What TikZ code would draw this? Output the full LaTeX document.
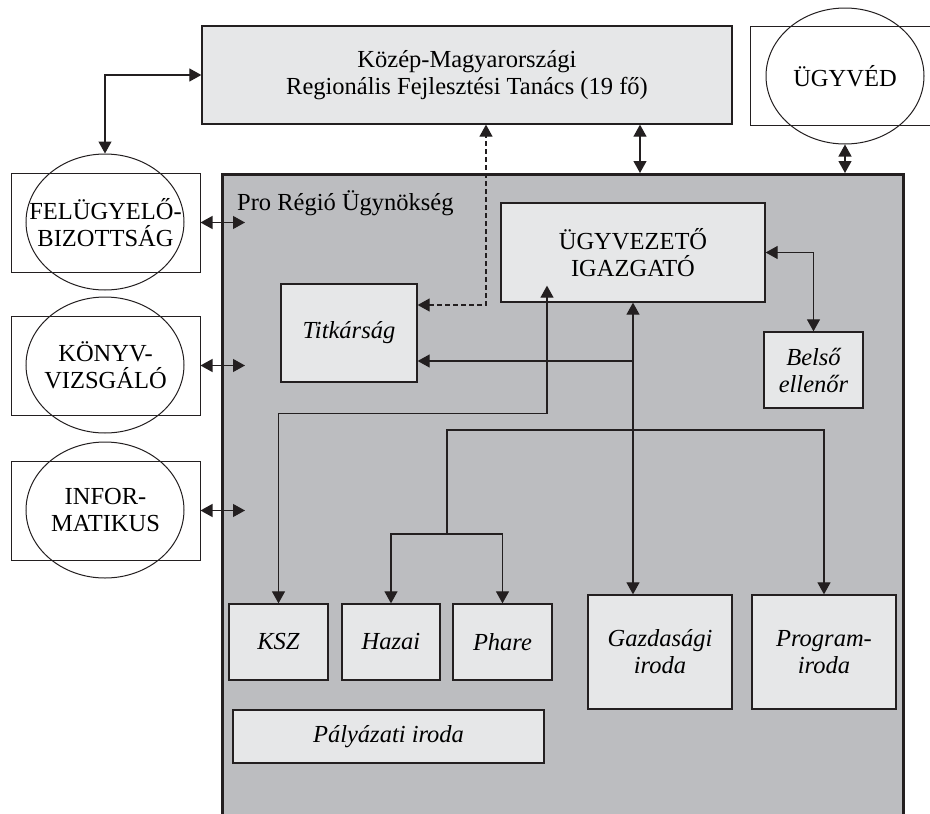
\documentclass[tikz,border=0pt]{standalone}
\usepackage{fontspec}
\setmainfont{Liberation Serif}
\usetikzlibrary{shapes.geometric, arrows.meta}
\definecolor{boxgray}{HTML}{E6E7E8}
\definecolor{agencygray}{HTML}{BCBDC0}
\definecolor{ink}{HTML}{231F20}
\newcommand{\orgfont}{\fontsize{24.5}{27}\selectfont}
\tikzstyle{board} = [rectangle, draw=ink, fill=boxgray, line width=1.3pt, inner sep=0pt, align=center, font=\orgfont]
\tikzstyle{unit} = [rectangle, draw=ink, fill=boxgray, line width=1.3pt, inner sep=0pt, align=center, font=\orgfont\itshape]
\tikzstyle{agency} = [rectangle, draw=ink, fill=agencygray, line width=2.6pt, inner sep=0pt]
\tikzstyle{outer} = [rectangle, draw=ink, line width=1pt, inner sep=0pt, align=center, font=\orgfont, minimum width=189pt, minimum height=99pt]
\tikzstyle{body} = [ellipse, draw=ink, line width=1pt, inner sep=0pt, align=center, font=\orgfont, minimum width=158pt, minimum height=136pt]
\tikzstyle{link} = [line width=1.2pt, draw=ink, <->]
\tikzstyle{flow} = [line width=1.2pt, draw=ink, ->]

\begin{document}
\begin{tikzpicture}[x=1pt, y=-1pt, >={Triangle[length=12pt,width=13pt]}]
		\useasboundingbox (0,0) rectangle (930,814);
		% top level
		\node (tanacs) [board, minimum width=530pt, minimum height=98pt] at (467,75) {Közép-Magyarországi\\Regionális Fejlesztési Tanács (19 fő)};
		\node (ugyved) [outer, minimum width=200pt] at (850,75.5) {};
		\node (ugyvedE) [body] at (845,76) {ÜGYVÉD};

		% left side
		\node (fel) [outer] at (105.5,222.5) {FELÜGYELŐ-\\BIZOTTSÁG};
		\node (felE) [body] at (105,222) {};
		\node (konyv) [outer] at (105.5,365.5) {KÖNYV-\\VIZSGÁLÓ};
		\node (konyvE) [body] at (105,365) {};
		\node (info) [outer] at (105.5,510.5) {INFOR-\\MATIKUS};
		\node (infoE) [body] at (105,510) {};
		\coordinate (felEnd) at (245,222.5);
		\coordinate (konyvEnd) at (245,365.5);
		\coordinate (infoEnd) at (245,510.5);

		% agency
		\node (pro) [agency, anchor=north west, minimum width=681pt, minimum height=680pt] at (221,173) {};
		\node (prolabel) [anchor=west, inner sep=0pt, font=\orgfont] at (237,203) {Pro Régió Ügynökség};
		\node (igazgato) [board, minimum width=264pt, minimum height=99pt] at (633,252.5) {ÜGYVEZETŐ\\IGAZGATÓ};
		\node (belso) [unit, minimum width=99pt, minimum height=76pt] at (813.5,370) {Belső\\ellenőr};
		\node (titkar) [unit, minimum width=136pt, minimum height=98pt] at (349,333) {Titkárság};
		\node (ksz) [unit, minimum width=99pt, minimum height=76pt] at (278.5,642) {KSZ};
		\node (hazai) [unit, minimum width=98pt, minimum height=76pt] at (391,642) {Hazai};
		\node (phare) [unit, minimum width=99pt, minimum height=76pt] at (502.5,642) {Phare};
		\node (gazd) [unit, minimum width=144pt, minimum height=114pt] at (660,652) {Gazdasági\\iroda};
		\node (program) [unit, minimum width=144pt, minimum height=114pt] at (824,652) {Program-\\iroda};
		\node (palya) [unit, minimum width=311pt, minimum height=53pt] at (388.5,736.5) {Pályázati iroda};
		\coordinate (titkarIn) at ([yshift=-28pt]titkar.east);
		\coordinate (split) at (447,534);

		\draw [link] (tanacs.west) -| (felE.north);
		\draw [link] (fel.east) -- (felEnd);
		\draw [link] (konyv.east) -- (konyvEnd);
		\draw [link] (info.east) -- (infoEnd);
		\draw [link] (tanacs.south -| 640,0) -- (pro.north -| 640,0);
		\draw [link] (ugyvedE.south) -- (ugyvedE.south |- pro.north);
		\draw [link] (igazgato.east) -| (belso.north);
		\draw [link, dash pattern=on 5pt off 3pt] ([yshift=28pt]titkar.east) -| (tanacs.south -| 486,0);
		\draw [flow] (titkarIn -| igazgato.south) -- (titkarIn);
		\draw [link] (igazgato.south) -- (igazgato.south |- gazd.north);
		\draw [link] ([xshift=-86pt,yshift=17pt]igazgato.south) -- ++(0,128) -| (ksz.north);
		\draw [flow] (split) |- (program.north |- 0,430) -- (program.north);
		\draw [flow] (split) -| (hazai.north);
		\draw [flow] (split) -| (phare.north);
\end{tikzpicture}
\end{document}
